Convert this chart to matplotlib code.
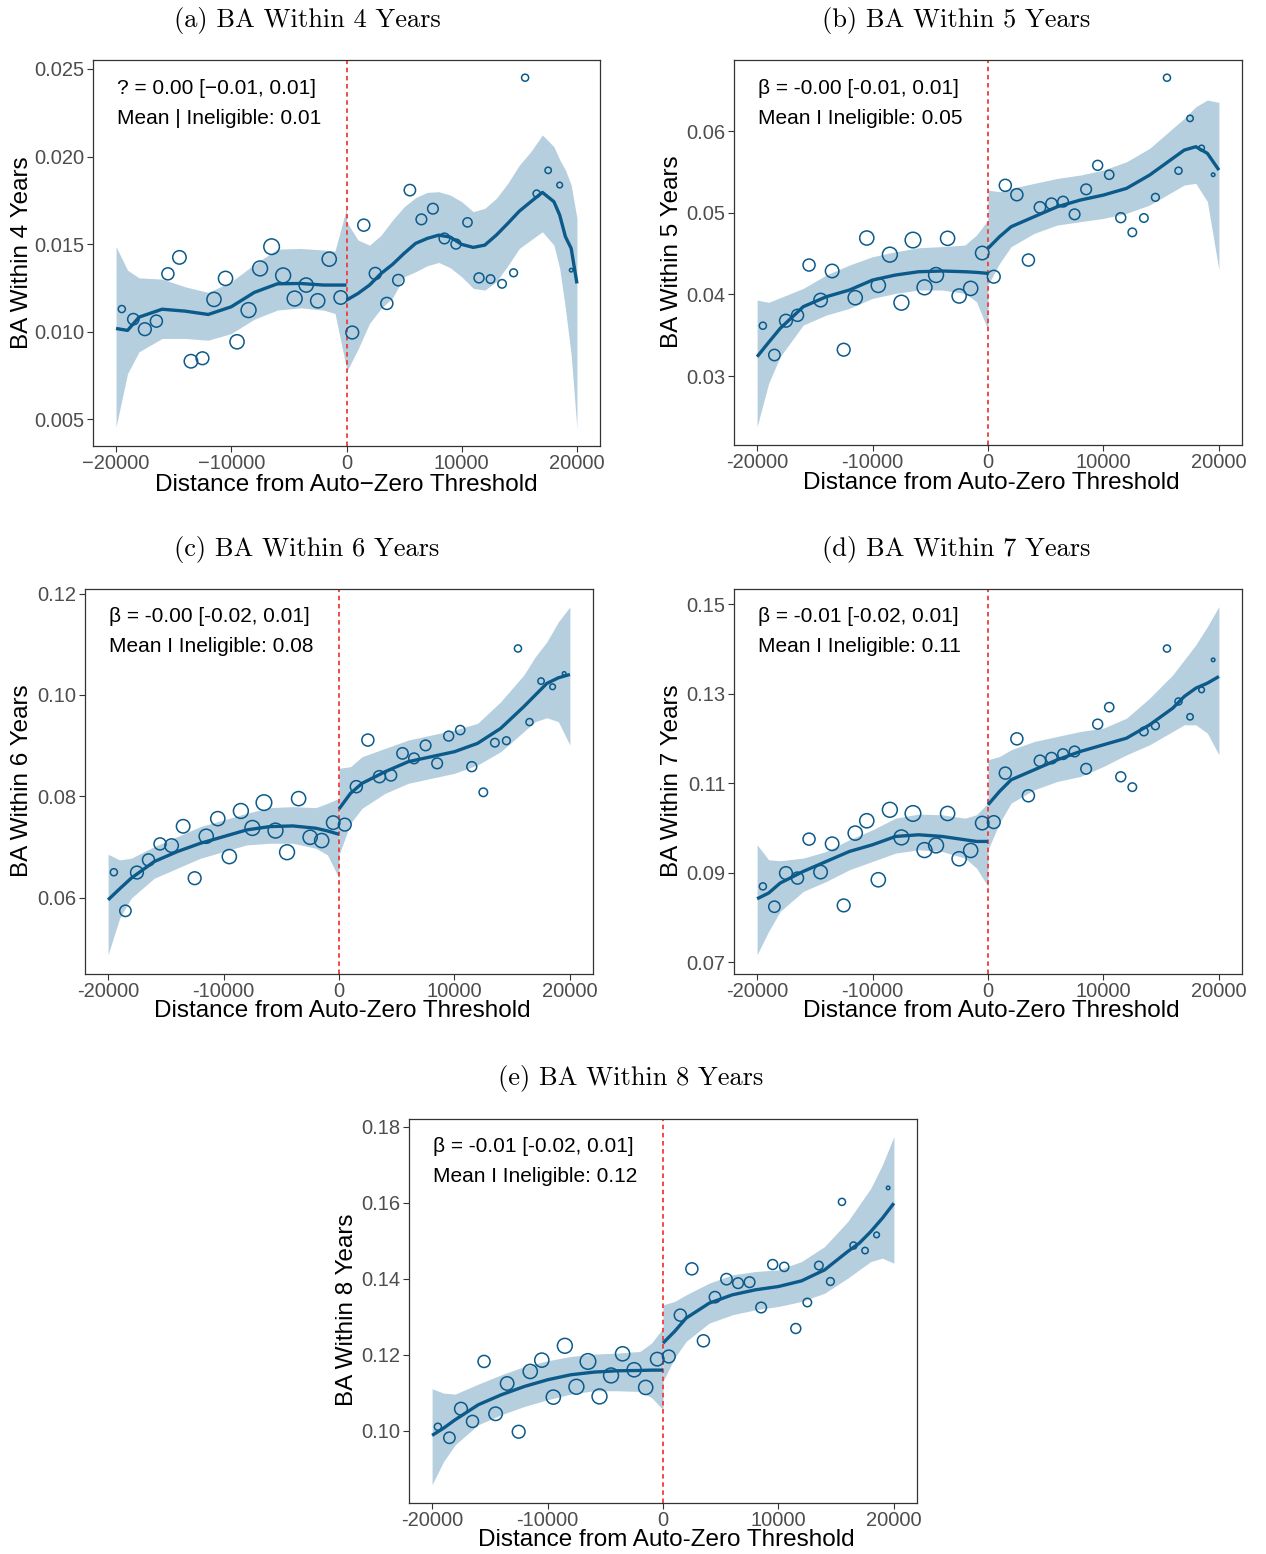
import matplotlib
matplotlib.use("Agg")
import matplotlib.pyplot as plt

# bin centres of the running variable and relative bin counts (marker area)
bin_x = [-19500, -18500, -17500, -16500, -15500, -14500, -13500, -12500, -11500, -10500,
         -9500, -8500, -7500, -6500, -5500, -4500, -3500, -2500, -1500, -500,
         500, 1500, 2500, 3500, 4500, 5500, 6500, 7500, 8500, 9500,
         10500, 11500, 12500, 13500, 14500, 15500, 16500, 17500, 18500, 19500]
bin_n = [100, 256, 324, 289, 289, 361, 361, 324, 400, 400,
         400, 441, 441, 484, 441, 441, 400, 400, 400, 361,
         324, 289, 289, 289, 256, 256, 225, 225, 225, 196,
         169, 196, 144, 144, 121, 100, 100, 81, 64, 25]

# x positions where the fitted curve / band were read
grid_l = [-20000, -19000, -18000, -16000, -14000, -12000, -10000, -8000, -6000, -4000, -2000, -1000, 0]
grid_r = [0, 1000, 2000, 4000, 6000, 8000, 10000, 12000, 14000, 16000, 17000, 18000, 19000, 20000]
# panel (a) is wigglier on the right, so it was read more densely
grid_r_a = [0, 1000, 2000, 3000, 4000, 5000, 6000, 7000, 8000, 9000, 10000, 11000, 12000,
            13000, 14000, 15000, 16000, 17000, 18000, 18500, 19000, 19500, 20000]

# (a) BA within 4 years
a_pts = [0.01129, 0.01071, 0.01014, 0.01060, 0.0133, 0.01424, 0.00831, 0.00848, 0.01184, 0.01304,
         0.00942, 0.01123, 0.01361, 0.01485, 0.01321, 0.01189, 0.01266, 0.01176, 0.01414, 0.01195,
         0.00995, 0.01608, 0.01332, 0.01161, 0.01294, 0.01808, 0.01641, 0.01702, 0.01532, 0.01500,
         0.01624, 0.01307, 0.01300, 0.01273, 0.01336, 0.02450, 0.01788, 0.01921, 0.01837, 0.01351]
a_fit_l = [0.01018, 0.01007, 0.01083, 0.01128, 0.01117, 0.01098, 0.01142, 0.01224, 0.01273, 0.01275, 0.01266, 0.01266, 0.01266]
a_hi_l = [0.01485, 0.01351, 0.01307, 0.0130, 0.01256, 0.01224, 0.01285, 0.01384, 0.01471, 0.01475, 0.01466, 0.0146, 0.01704]
a_lo_l = [0.00456, 0.00761, 0.00885, 0.00961, 0.00961, 0.00951, 0.00989, 0.01071, 0.01123, 0.01136, 0.01123, 0.01104, 0.0079]
a_fit_r = [0.0118, 0.01218, 0.01266, 0.01332, 0.01384, 0.01447, 0.01504, 0.01532, 0.01551, 0.0154, 0.01498, 0.01481,
           0.01494, 0.01551, 0.01618, 0.01688, 0.01742, 0.01795, 0.01742, 0.01666, 0.01542, 0.01475, 0.01275]
a_hi_r = [0.01628, 0.01523, 0.01494, 0.01551, 0.01637, 0.01713, 0.01765, 0.01795, 0.01799, 0.0178, 0.01742, 0.01685,
          0.01704, 0.01761, 0.01847, 0.01951, 0.02028, 0.02123, 0.02056, 0.01982, 0.01923, 0.01837, 0.01647]
a_lo_r = [0.0077, 0.0090, 0.01047, 0.01132, 0.01193, 0.01313, 0.01342, 0.01376, 0.01395, 0.01365, 0.01313, 0.01247,
          0.01237, 0.01285, 0.01376, 0.01475, 0.01523, 0.0157, 0.01494, 0.01361, 0.01132, 0.00866, 0.00446]

# (b) BA within 5 years
b_pts = [0.03616, 0.03257, 0.03677, 0.03743, 0.04359, 0.0393, 0.04286, 0.03322, 0.03959, 0.0469,
         0.0411, 0.04486, 0.03898, 0.04665, 0.04086, 0.04237, 0.04686, 0.0398, 0.04073, 0.04506,
         0.04216, 0.05335, 0.0522, 0.0442, 0.05065, 0.0511, 0.05135, 0.0498, 0.05286, 0.0558,
         0.05465, 0.04939, 0.04759, 0.04935, 0.05188, 0.06653, 0.05514, 0.06155, 0.05792, 0.05465]
b_fit_l = [0.03236, 0.03412, 0.03583, 0.03849, 0.03971, 0.04053, 0.04175, 0.04237, 0.04277, 0.04286, 0.04277, 0.04269, 0.04257]
b_hi_l = [0.0393, 0.03902, 0.03959, 0.04073, 0.04237, 0.04359, 0.04461, 0.04522, 0.04571, 0.04584, 0.04604, 0.04726, 0.0491]
b_lo_l = [0.02379, 0.0291, 0.03236, 0.03624, 0.03747, 0.03828, 0.03951, 0.04012, 0.04053, 0.04053, 0.04012, 0.0391, 0.03563]
b_fit_r = [0.04563, 0.04706, 0.04828, 0.04951, 0.05073, 0.05155, 0.05216, 0.05298, 0.05461, 0.05665, 0.05767, 0.05808, 0.05727, 0.05522]
b_hi_r = [0.05277, 0.05257, 0.05298, 0.05359, 0.0542, 0.05461, 0.05522, 0.05624, 0.05788, 0.06033, 0.06155, 0.06298, 0.0638, 0.06351]
b_lo_r = [0.04114, 0.04379, 0.04584, 0.04747, 0.04849, 0.0489, 0.0493, 0.04992, 0.05094, 0.05257, 0.05339, 0.05359, 0.05135, 0.04298]

# (c) BA within 6 years
c_pts = [0.06499, 0.05737, 0.06493, 0.06742, 0.07058, 0.07025, 0.07406, 0.06381, 0.07209, 0.07557,
         0.06808, 0.07708, 0.07373, 0.07873, 0.07321, 0.06894, 0.07952, 0.07189, 0.07124, 0.07478,
         0.07439, 0.08188, 0.09108, 0.08385, 0.08412, 0.08845, 0.08747, 0.09003, 0.08648, 0.09187,
         0.09305, 0.08583, 0.08077, 0.09056, 0.09095, 0.10916, 0.09463, 0.10272, 0.1016, 0.10423]
c_fit_l = [0.05954, 0.06171, 0.06381, 0.0671, 0.06907, 0.07071, 0.07202, 0.07334, 0.074, 0.07413, 0.07367, 0.07314, 0.07248]
c_hi_l = [0.06854, 0.06742, 0.06775, 0.07005, 0.07202, 0.074, 0.07531, 0.07662, 0.07774, 0.07794, 0.07774, 0.0786, 0.07958]
c_lo_l = [0.04869, 0.05592, 0.05987, 0.06381, 0.06578, 0.06775, 0.06907, 0.07038, 0.07071, 0.07071, 0.06972, 0.06841, 0.06381]
c_fit_r = [0.07748, 0.08057, 0.08254, 0.08484, 0.08681, 0.0878, 0.08878, 0.09043, 0.09338, 0.09766, 0.09996, 0.10226, 0.10337, 0.10403]
c_hi_r = [0.0855, 0.08583, 0.0878, 0.08944, 0.09108, 0.09207, 0.09305, 0.09437, 0.09864, 0.1039, 0.10751, 0.11047, 0.11441, 0.11737]
c_lo_r = [0.06841, 0.07465, 0.07761, 0.08057, 0.08254, 0.08353, 0.08451, 0.08615, 0.08878, 0.09273, 0.0947, 0.09549, 0.0947, 0.0901]

# (d) BA within 7 years
d_pts = [0.08697, 0.08243, 0.08994, 0.08883, 0.09753, 0.09017, 0.09649, 0.08272, 0.09887, 0.10163,
         0.08845, 0.10408, 0.09791, 0.10326, 0.09508, 0.09612, 0.10326, 0.09314, 0.095, 0.10111,
         0.10133, 0.11227, 0.11993, 0.10721, 0.11502, 0.11562, 0.11651, 0.11711, 0.11324, 0.12321,
         0.127, 0.11145, 0.10914, 0.12157, 0.12284, 0.1401, 0.12827, 0.12485, 0.13087, 0.13757]
d_fit_l = [0.08421, 0.08548, 0.08771, 0.09032, 0.09255, 0.09478, 0.09627, 0.09813, 0.0985, 0.09813, 0.09739, 0.09701, 0.09701]
d_hi_l = [0.09627, 0.09292, 0.0927, 0.09329, 0.09478, 0.09739, 0.09962, 0.10222, 0.10312, 0.10297, 0.10222, 0.10297, 0.10557]
d_lo_l = [0.07171, 0.07692, 0.08138, 0.08585, 0.08808, 0.09069, 0.09255, 0.09441, 0.09515, 0.09478, 0.09329, 0.09106, 0.08697]
d_fit_r = [0.1052, 0.10818, 0.11078, 0.11301, 0.11525, 0.11711, 0.1186, 0.12008, 0.12306, 0.12678, 0.12939, 0.13125, 0.13236, 0.13385]
d_hi_r = [0.11525, 0.11599, 0.11748, 0.11934, 0.12046, 0.12157, 0.12232, 0.12455, 0.12901, 0.13422, 0.13757, 0.14092, 0.14501, 0.14948]
d_lo_r = [0.09515, 0.10111, 0.10557, 0.10855, 0.11041, 0.11152, 0.11376, 0.11636, 0.1186, 0.12157, 0.12306, 0.12306, 0.1212, 0.11636]

# (e) BA within 8 years
e_pts = [0.10105, 0.09816, 0.10579, 0.10246, 0.11823, 0.10447, 0.11244, 0.09974, 0.1156, 0.11858,
         0.10885, 0.12235, 0.11157, 0.11823, 0.10903, 0.11455, 0.12024, 0.11604, 0.11139, 0.11884,
         0.11954, 0.13041, 0.14259, 0.12366, 0.13514, 0.13987, 0.13882, 0.13908, 0.13242, 0.14373,
         0.14311, 0.1269, 0.13374, 0.14346, 0.13926, 0.1602, 0.14872, 0.1474, 0.15152, 0.16388]
e_fit_l = [0.09878, 0.1007, 0.1029, 0.10684, 0.10947, 0.11166, 0.11341, 0.11472, 0.11542, 0.11577, 0.11586, 0.11595, 0.11595]
e_hi_l = [0.11104, 0.1099, 0.10964, 0.11227, 0.11472, 0.11691, 0.1184, 0.11954, 0.12016, 0.12042, 0.12086, 0.12305, 0.12699]
e_lo_l = [0.08581, 0.09194, 0.09632, 0.10158, 0.10421, 0.1064, 0.10815, 0.10964, 0.11052, 0.11052, 0.11034, 0.10876, 0.10552]
e_fit_r = [0.12305, 0.12611, 0.12962, 0.13356, 0.13575, 0.13707, 0.13794, 0.13943, 0.14232, 0.14714, 0.14933, 0.1524, 0.1559, 0.15985]
e_hi_r = [0.13312, 0.134, 0.13575, 0.13882, 0.14101, 0.14189, 0.14232, 0.14451, 0.14846, 0.15503, 0.15941, 0.16379, 0.16992, 0.17737]
e_lo_r = [0.11297, 0.1191, 0.12349, 0.1283, 0.1305, 0.13181, 0.13269, 0.134, 0.13619, 0.14013, 0.14232, 0.14451, 0.14539, 0.14408]

titles = ["(a) BA Within 4 Years", "(b) BA Within 5 Years", "(c) BA Within 6 Years",
          "(d) BA Within 7 Years", "(e) BA Within 8 Years"]
ylabels = ["BA Within 4 Years", "BA Within 5 Years", "BA Within 6 Years",
           "BA Within 7 Years", "BA Within 8 Years"]
beta_txt = ["? = 0.00 [\u22120.01, 0.01]", "\u03b2 = -0.00 [-0.01, 0.01]", "\u03b2 = -0.00 [-0.02, 0.01]",
            "\u03b2 = -0.01 [-0.02, 0.01]", "\u03b2 = -0.01 [-0.02, 0.01]"]
mean_txt = ["Mean | Ineligible: 0.01", "Mean I Ineligible: 0.05", "Mean I Ineligible: 0.08",
            "Mean I Ineligible: 0.11", "Mean I Ineligible: 0.12"]
yticks = [[0.005, 0.010, 0.015, 0.020, 0.025], [0.03, 0.04, 0.05, 0.06], [0.06, 0.08, 0.10, 0.12],
          [0.07, 0.09, 0.11, 0.13, 0.15], [0.10, 0.12, 0.14, 0.16, 0.18]]
ytick_fmt = ["{:.3f}", "{:.2f}", "{:.2f}", "{:.2f}", "{:.2f}"]
ylims = [(0.00347, 0.02551), (0.02155, 0.0687), (0.0449, 0.1209), (0.0674, 0.1534), (0.081, 0.182)]
xticks = [-20000, -10000, 0, 10000, 20000]

pts = [a_pts, b_pts, c_pts, d_pts, e_pts]
right_grids = [grid_r_a, grid_r, grid_r, grid_r, grid_r]
fits = [(a_fit_l, a_lo_l, a_hi_l, a_fit_r, a_lo_r, a_hi_r),
        (b_fit_l, b_lo_l, b_hi_l, b_fit_r, b_lo_r, b_hi_r),
        (c_fit_l, c_lo_l, c_hi_l, c_fit_r, c_lo_r, c_hi_r),
        (d_fit_l, d_lo_l, d_hi_l, d_fit_r, d_lo_r, d_hi_r),
        (e_fit_l, e_lo_l, e_hi_l, e_fit_r, e_lo_r, e_hi_r)]

W, H = 1266, 1554
# axes boxes in pixels: left, top, right, bottom
boxes = [(93, 60, 600, 446), (734, 60, 1242, 445), (85, 589, 593, 974),
         (734, 589, 1242, 974), (409, 1119, 917, 1503)]
title_pos = [(307, 20), (956, 20), (307, 549), (956, 549), (631, 1078)]
xlab_pos = [(346, 485), (991, 483), (342, 1011), (991, 1011), (666, 1540)]
ylab_pos = [(22, 253), (672, 252), (22, 781), (672, 781), (347, 1310)]

DARK = "#0b5a8a"
BAND = "#b6cfdf"
GREY = "#4d4d4d"

fig = plt.figure(figsize=(W / 100, H / 100), dpi=100)


def fx(p):
    return p / W


def fy(p):
    return 1 - p / H


for i in range(5):
    l, t, r, b = boxes[i]
    ax = fig.add_axes([fx(l), fy(b), (r - l) / W, (b - t) / H])
    if i == 0:
        sans = ["Liberation Sans Narrow", "Liberation Sans", "DejaVu Sans"]
        xtl = ["\u221220000", "\u221210000", "0", "10000", "20000"]
        xlab = "Distance from Auto\u2212Zero Threshold"
    else:
        sans = ["Liberation Sans", "DejaVu Sans"]
        xtl = ["-20000", "-10000", "0", "10000", "20000"]
        xlab = "Distance from Auto-Zero Threshold"

    fl, lol, hil, fr, lor, hir = fits[i]
    gr = right_grids[i]
    ax.fill_between(grid_l, lol, hil, color=BAND, lw=0, zorder=1)
    ax.fill_between(gr, lor, hir, color=BAND, lw=0, zorder=1)
    ax.axvline(0, color="#f03c3c", lw=1.3, ls=(0, (2.5, 2)), zorder=2)
    ax.plot(grid_l, fl, color=DARK, lw=2.4, zorder=3, solid_capstyle="butt")
    ax.plot(gr, fr, color=DARK, lw=2.4, zorder=3, solid_capstyle="butt")
    ax.scatter(bin_x, pts[i], s=[n * 0.26 for n in bin_n], facecolors="none",
               edgecolors=DARK, linewidths=1.1, zorder=4)

    ax.set_xlim(-22000, 22000)
    ax.set_ylim(*ylims[i])
    ax.set_xticks(xticks)
    ax.set_xticklabels(xtl, family=sans, fontsize=14.5, color=GREY)
    ax.set_yticks(yticks[i])
    ax.set_yticklabels([ytick_fmt[i].format(v) for v in yticks[i]], family=sans,
                       fontsize=14.5, color=GREY)
    ax.tick_params(length=4, width=0.8, color="#333333", pad=2)
    for sp in ax.spines.values():
        sp.set_color("#333333")
        sp.set_linewidth(0.9)

    fig.text(fx(l + 24), fy(t + 28), beta_txt[i], family=sans, fontsize=15,
             ha="left", va="center")
    fig.text(fx(l + 24), fy(t + 58), mean_txt[i], family=sans, fontsize=15,
             ha="left", va="center")

    fig.text(fx(title_pos[i][0]), fy(title_pos[i][1]), titles[i], family="cmr10",
             fontsize=19, ha="center", va="center")
    fig.text(fx(xlab_pos[i][0]), fy(xlab_pos[i][1]), xlab, family=sans,
             fontsize=17.5, ha="center", va="center")
    fig.text(fx(ylab_pos[i][0]), fy(ylab_pos[i][1]), ylabels[i], family=sans,
             fontsize=17.5, ha="center", va="center", rotation=90)

fig.savefig("out.png", dpi=100)
